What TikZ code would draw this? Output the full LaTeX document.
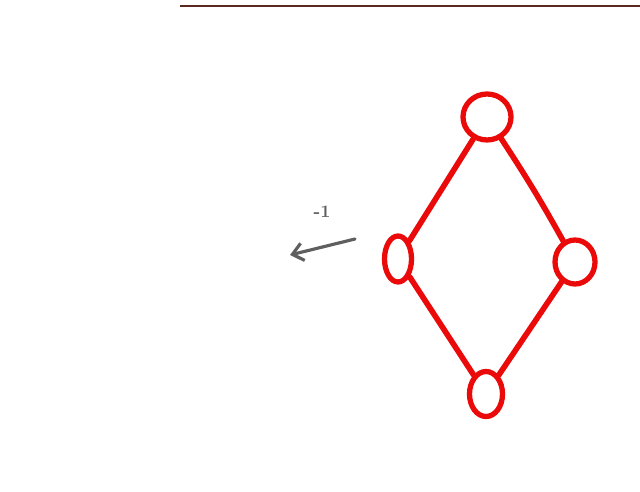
\documentclass[tikz,border=0pt]{standalone}
\usepackage{xcolor}
\usetikzlibrary{shapes.geometric,arrows.meta,positioning}
\definecolor{inkred}{RGB}{235,10,10}
\definecolor{inkgray}{RGB}{95,95,95}
\definecolor{boardedge}{RGB}{90,40,30}

\begin{document}
\begin{tikzpicture}[every node/.style={font=\small}]
  \tikzset{
    vert/.style={draw=inkred, line width=3pt, ellipse, inner sep=0pt},
    edge/.style={draw=inkred, line width=3.2pt, line cap=round},
    moveleft/.style={draw=inkgray, line width=1.8pt, line cap=round, -{Straight Barb[length=6pt,width=10pt]}}
  }
  \useasboundingbox (0,0) rectangle (12.8,9.82);
  \draw[boardedge, line width=1pt] (3.6,9.70) -- (12.8,9.70);

  % Diamond: top / left / right / bottom
  \node[vert, minimum width=0.96cm, minimum height=0.92cm] (vT) at (9.74, 7.48) {};
  \node[vert, minimum width=0.54cm, minimum height=0.92cm] (vL) at (7.96, 4.64) {};
  \node[vert, minimum width=0.80cm, minimum height=0.88cm] (vR) at (11.50, 4.58) {};
  \node[vert, minimum width=0.66cm, minimum height=0.90cm] (vB) at (9.72, 1.94) {};

  \draw[edge] (vT) -- (vL);
  \draw[edge] (vT) to[bend left=2] (vR);
  \draw[edge] (vL) -- (vB);
  \draw[edge] (vR) -- (vB);

  % Arrow to the left
  \coordinate (aS) at (7.10, 5.04);
  \coordinate (aE) at (5.80, 4.72);
  \draw[moveleft] (aS) -- (aE);
  \node[text=inkgray, font=\normalsize\bfseries] (lbl) at (6.44, 5.58) {-1};
\end{tikzpicture}
\end{document}
